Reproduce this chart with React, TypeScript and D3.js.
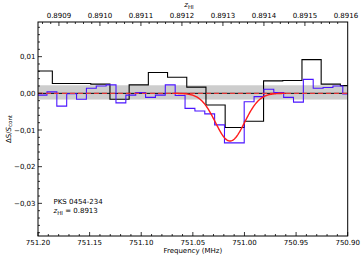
import React from 'react';
import * as d3 from 'd3';

const blackFreqs = [751.1954, 751.1768, 751.1582, 751.1396, 751.1210, 751.1024, 751.0838, 751.0652, 751.0466, 751.0280, 751.0094, 750.9908, 750.9722, 750.9536, 750.9350, 750.9164, 750.8978];
const blackVals = [0.0061, 0.0027, 0.0027, 0.0025, -0.0016, 0.0023, 0.0057, 0.0044, 0.0017, -0.0032, -0.0093, -0.0076, 0.0034, 0.0035, 0.0092, 0.0025, 0.0021];
const blackWidth = 0.0186;

const blueFreqs = [751.1961, 751.1865, 751.1770, 751.1674, 751.1579, 751.1483, 751.1388, 751.1292, 751.1197, 751.1101, 751.1006, 751.0910, 751.0815, 751.0719, 751.0623, 751.0528, 751.0432, 751.0337, 751.0241, 751.0146, 751.0050, 750.9955, 750.9859, 750.9764, 750.9668, 750.9573, 750.9477, 750.9382, 750.9286, 750.9191, 750.9095, 750.9000];
const blueVals = [-0.0005, 0.0004, -0.0035, -0.0001, -0.0016, 0.0014, 0.0020, 0.0023, -0.0026, -0.0005, 0.0002, -0.0011, -0.0005, 0.0023, -0.0006, -0.0041, -0.0048, -0.0056, -0.0086, -0.0135, -0.0135, -0.0023, -0.0009, 0.0011, 0.0002, -0.0011, -0.0024, 0.0038, 0.0014, 0.0016, 0.0020, -0.0002];
const blueWidth = 0.00955;

const fitCentre = 751.014;
const fitDepth = -0.0130;
const fitSigma = 0.0142;
const fitRange = [751.070, 750.960];

const noiseUpper = 0.0022;
const noiseLower = -0.0017;

const freqTicks = [751.20, 751.15, 751.10, 751.05, 751.00, 750.95, 750.90];
const zTicks = [0.8909, 0.8910, 0.8911, 0.8912, 0.8913, 0.8914, 0.8915, 0.8916];
const yTicks = [-0.03, -0.02, -0.01, 0.0, 0.01];

const REST = 1420.405752;

export default function App() {
  const W = 364, H = 259;
  const L = 38, R = 347.7, T = 22, B = 236;
  const x = d3.scaleLinear().domain([751.20, 750.90]).range([L, R]);
  const y = d3.scaleLinear().domain([-0.0389, 0.01945]).range([B, T]);
  const font = 'DejaVu Sans, Verdana, sans-serif';

  const stepPts = (freqs: number[], vals: number[], w: number) => {
    const pts: [number, number][] = [];
    freqs.forEach((f, i) => {
      pts.push([f + w / 2, vals[i]]);
      pts.push([f - w / 2, vals[i]]);
    });
    return pts;
  };
  const line = d3.line<[number, number]>().x(d => x(d[0])).y(d => y(d[1]));
  const blackPath = line(stepPts(blackFreqs, blackVals, blackWidth)) || '';
  const bluePath = line(stepPts(blueFreqs, blueVals, blueWidth)) || '';

  const gauss = (f: number) => fitDepth * Math.exp(-0.5 * ((f - fitCentre) / fitSigma) ** 2);
  const fitPts: [number, number][] = d3.range(0, 201).map(i => {
    const f = fitRange[0] + (fitRange[1] - fitRange[0]) * i / 200;
    return [f, gauss(f)];
  });
  const fitPath = line(fitPts) || '';

  const minorX = d3.range(0, 31).map(i => 751.20 - i * 0.01);
  const minorY = d3.range(-19, 10).map(i => i * 0.002);
  const zMinor = d3.range(0, 40).map(i => 0.8908 + i * 0.00002).filter(z => {
    const f = REST / (1 + z);
    return f <= 751.2 && f >= 750.9;
  });
  const fz = (z: number) => x(REST / (1 + z));
  const fmtY = (v: number) => {
    const s = Math.abs(v).toFixed(2).replace('.', ',');
    return (v < -1e-9 ? '\u2212' : '') + s;
  };

  return (
    <svg width={W} height={H} style={{ position: 'absolute', left: 0, top: 0, background: '#fff' }} fontFamily={font}>
      <defs>
        <clipPath id="plotclip"><rect x={L} y={T} width={R - L} height={B - T} /></clipPath>
      </defs>
      <g clipPath="url(#plotclip)">
        <rect x={L} y={y(noiseUpper)} width={R - L} height={y(noiseLower) - y(noiseUpper)} fill="#cdcdcd" />
        <line x1={L} x2={R} y1={y(0)} y2={y(0)} stroke="#000" strokeWidth={1} />
        <path d={blackPath} fill="none" stroke="#000" strokeWidth={1.1} />
        <path d={bluePath} fill="none" stroke="#4a14ff" strokeWidth={1.1} />
        <line x1={L} x2={R} y1={y(0)} y2={y(0)} stroke="#ff3a3a" strokeOpacity={0.85} strokeWidth={1.4} strokeDasharray="5,3" />
        <path d={fitPath} fill="none" stroke="#ff1a1a" strokeWidth={1.4} />
      </g>
      {/* frame */}
      <rect x={L} y={T} width={R - L} height={B - T} fill="none" stroke="#000" strokeWidth={1} />
      {/* bottom ticks */}
      {minorX.map((f, i) => (
        <line key={'bx' + i} x1={x(f)} x2={x(f)} y1={B} y2={B - (i % 5 === 0 ? 4 : 2)} stroke="#000" strokeWidth={0.8} />
      ))}
      {freqTicks.map(f => (
        <text key={'bl' + f} x={x(f)} y={244.5} fontSize={7} textAnchor="middle">{f.toFixed(2)}</text>
      ))}
      <text x={(L + R) / 2} y={253} fontSize={7} textAnchor="middle">Frequency (MHz)</text>
      {/* top ticks */}
      {zMinor.map((z, i) => {
        const major = Math.abs(Math.round(z * 10000) - z * 10000) < 1e-6;
        return <line key={'tz' + i} x1={fz(z)} x2={fz(z)} y1={T} y2={T + (major ? 4 : 2)} stroke="#000" strokeWidth={0.8} />;
      })}
      {zTicks.map(z => (
        <text key={'tl' + z} x={fz(z)} y={18.3} fontSize={7} textAnchor="middle">{z.toFixed(4)}</text>
      ))}
      <text x={189} y={7.3} fontSize={7} textAnchor="middle">
        <tspan fontStyle="italic">z</tspan>
        <tspan fontSize={5.5} dy={1.5}>HI</tspan>
      </text>
      {/* left ticks */}
      {minorY.map((v, i) => {
        const major = Math.abs(Math.round(v * 100) - v * 100) < 1e-6;
        return <line key={'ly' + i} x1={L} x2={L + (major ? 4 : 2)} y1={y(v)} y2={y(v)} stroke="#000" strokeWidth={0.8} />;
      })}
      {yTicks.map(v => (
        <text key={'yl' + v} x={35.5} y={y(v) + 2.5} fontSize={7} textAnchor="end">{fmtY(v)}</text>
      ))}
      <text transform={`translate(10.5,${(T + B) / 2}) rotate(-90)`} fontSize={7} textAnchor="middle">
        <tspan>ΔS/</tspan><tspan fontStyle="italic">S</tspan><tspan fontSize={5.5} dy={1.5}>cont</tspan>
      </text>
      {/* annotation */}
      <text x={53.5} y={204} fontSize={7}>PKS 0454-234</text>
      <text x={53.5} y={213.3} fontSize={7}>
        <tspan fontStyle="italic">z</tspan><tspan fontSize={5.5} dy={1.5}>HI</tspan><tspan dy={-1.5}> = 0.8913</tspan>
      </text>
    </svg>
  );
}
